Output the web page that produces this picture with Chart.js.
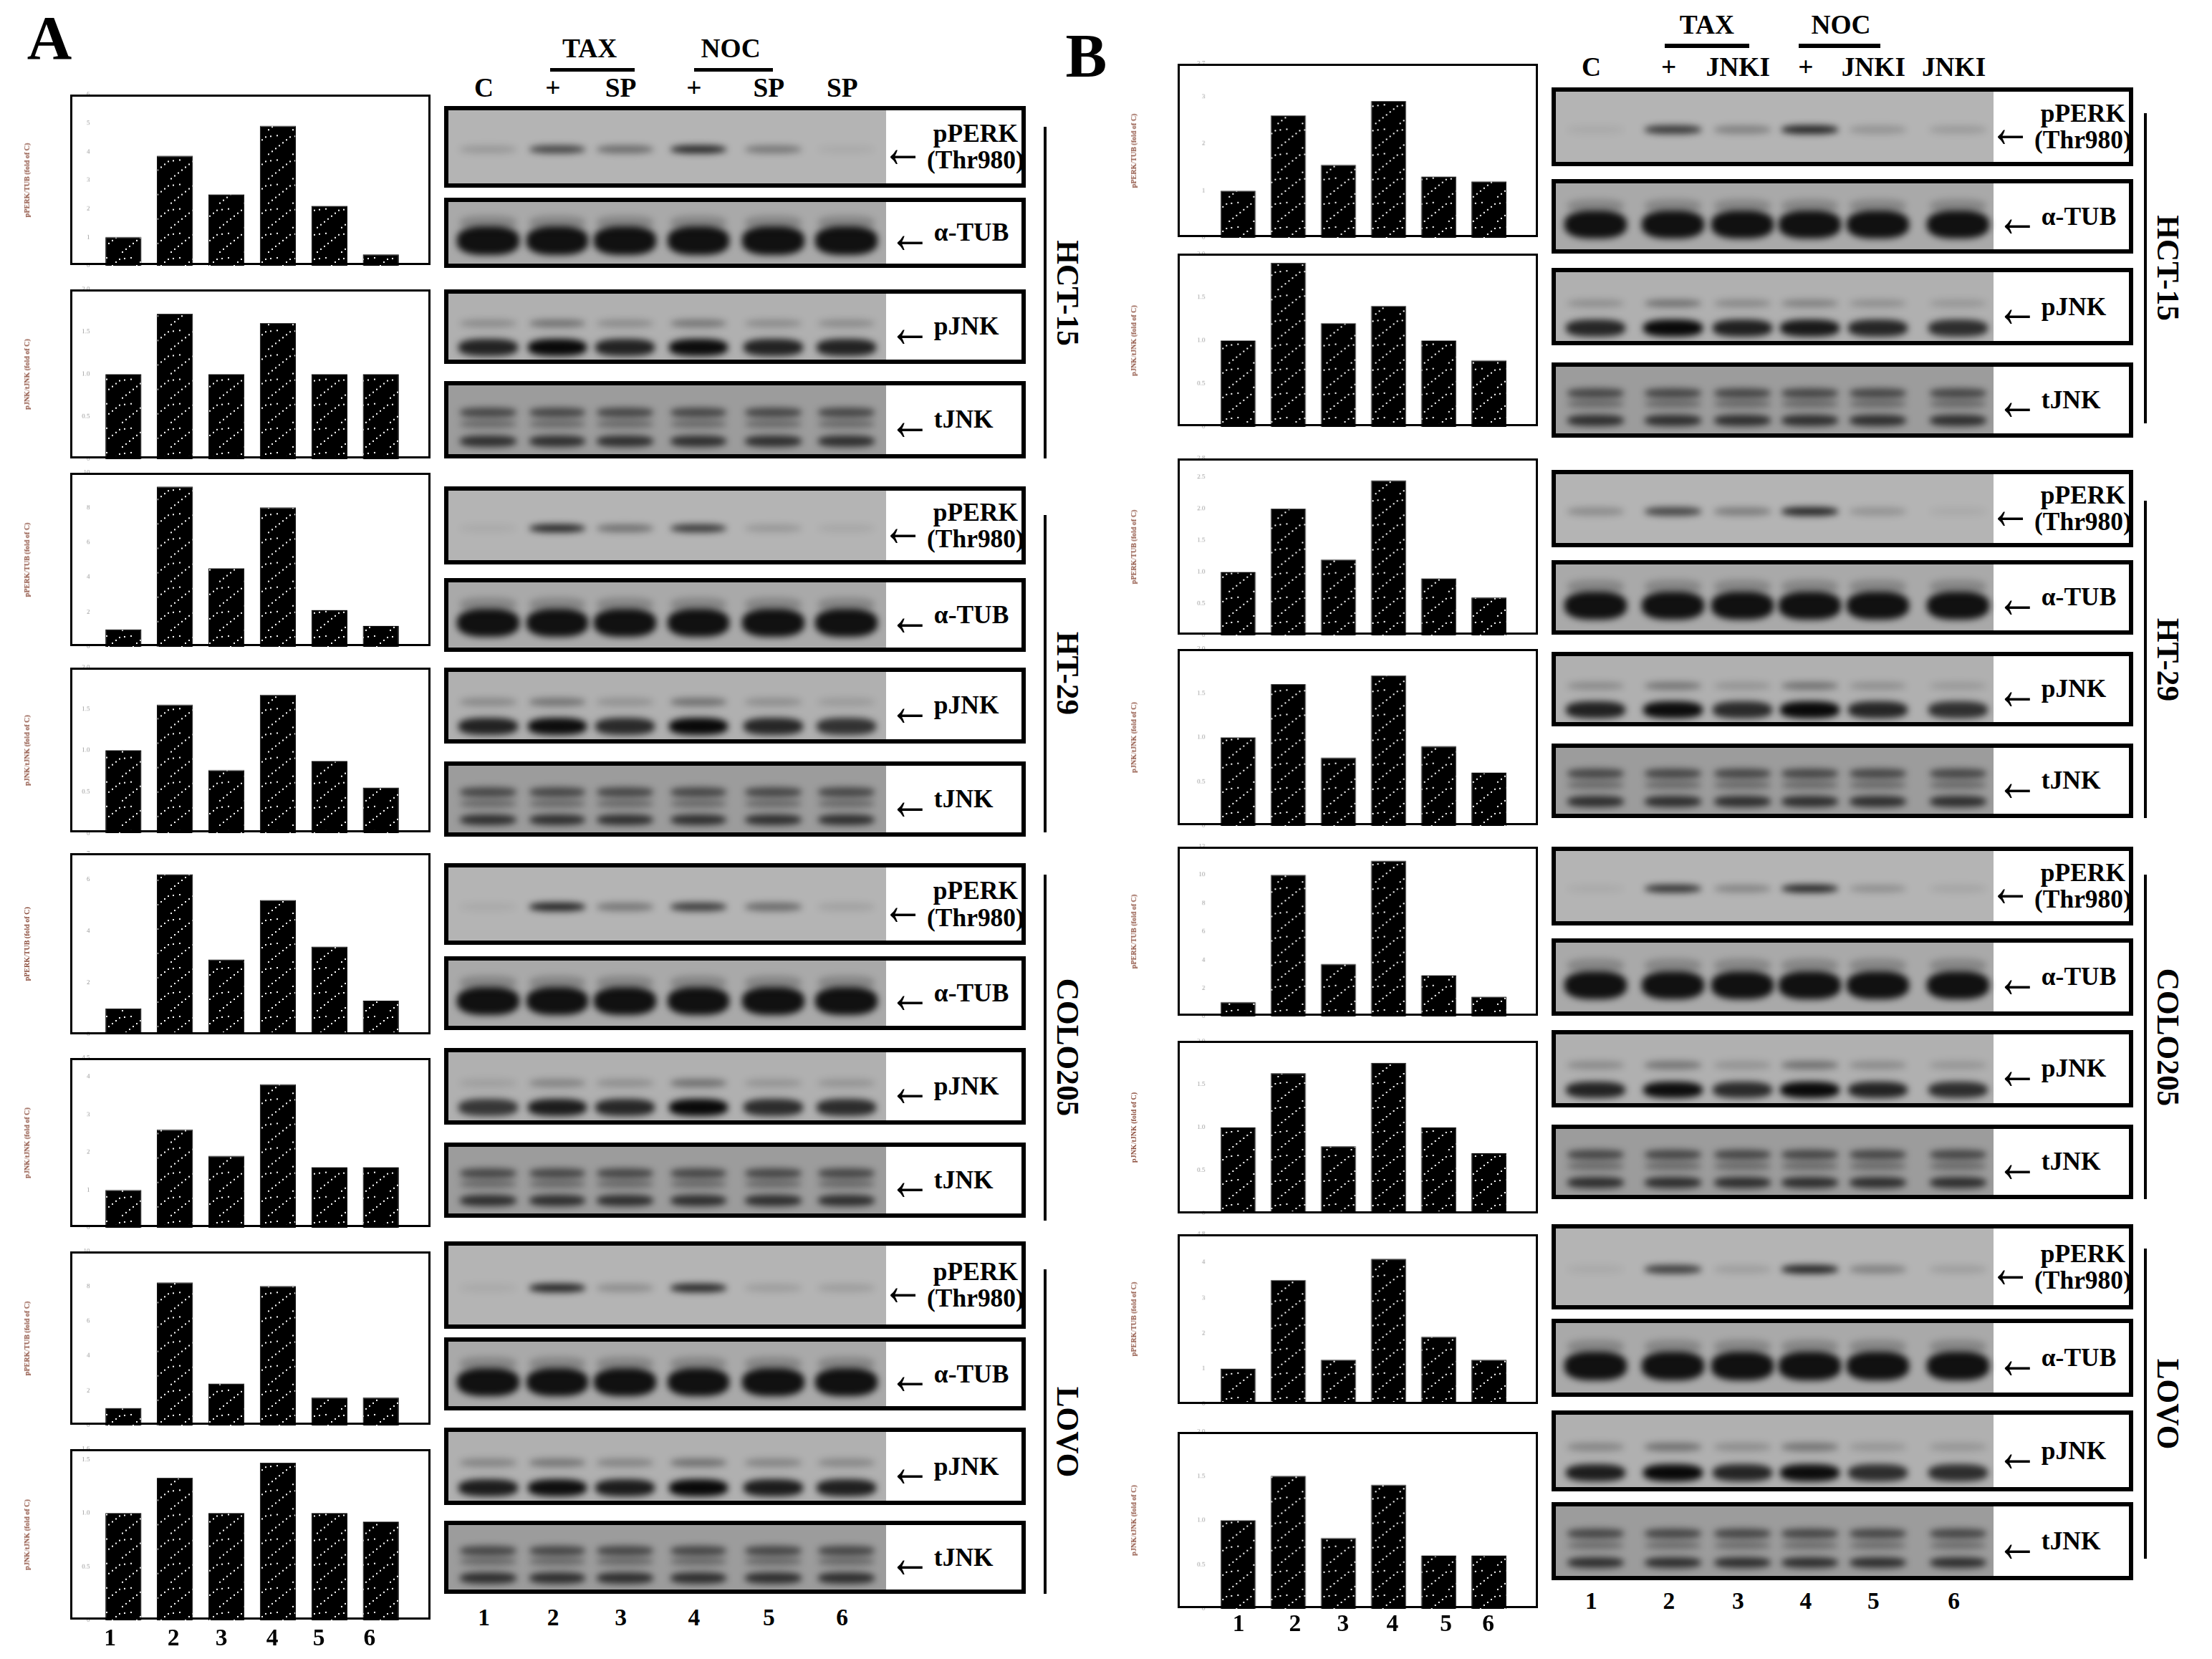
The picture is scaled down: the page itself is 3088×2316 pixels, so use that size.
<!DOCTYPE html>
<html>
<head>
<meta charset="UTF-8">
<script src="https://cdn.jsdelivr.net/npm/chart.js"></script>
<style>
  body{margin:0;background:#fff;width:3088px;height:2316px;overflow:hidden;font-family:"Liberation Serif",serif;position:relative}
  .abs{position:absolute}
  .txt{position:absolute;font-weight:bold;color:#000;white-space:nowrap;line-height:1}
  .box{position:absolute;border:3px solid #000;box-sizing:border-box;pointer-events:none}
  .blot{position:absolute;border:6px solid #000;box-sizing:border-box;background:#fff;overflow:hidden}
  .gel{position:absolute;left:0;top:0;bottom:0}
  .band{position:absolute;border-radius:40%;filter:blur(5px)}
  .lbl{position:absolute;font-weight:bold;line-height:1.05;display:flex;align-items:center;white-space:nowrap}
  .lbl .ar{font-weight:bold;margin-right:4px;transform:scaleY(1.4)}
  .lbl .tx{text-align:center}
  .vline{position:absolute;width:4px;background:#000}
  .rot{position:absolute;font-weight:bold;transform:translate(-50%,-50%) rotate(90deg);white-space:nowrap}
</style>
</head>
<body>
<script>
// ---------- data (fold of control) ----------
const lanes = ['1','2','3','4','5','6'];
// panel A: C, TAX, TAX+SP, NOC, NOC+SP, SP
const aHctPerk  = [1, 3.85, 2.5, 4.9, 2.1, 0.4];
const aHctJnk   = [1.0, 1.71, 1.0, 1.6, 1.0, 1.0];
const aHtPerk   = [1, 9.2, 4.5, 8.0, 2.1, 1.2];
const aHtJnk    = [1, 1.55, 0.76, 1.67, 0.87, 0.55];
const aColoPerk = [1, 6.2, 2.9, 5.2, 3.4, 1.3];
const aColoJnk  = [1, 2.6, 1.9, 3.8, 1.6, 1.6];
const aLovoPerk = [1, 8.2, 2.4, 8.0, 1.6, 1.6];
const aLovoJnk  = [1, 1.33, 1.0, 1.47, 1.0, 0.92];
// panel B: C, TAX, TAX+JNKI, NOC, NOC+JNKI, JNKI
const bHctPerk  = [1, 2.6, 1.55, 2.9, 1.3, 1.2];
const bHctJnk   = [1, 1.9, 1.2, 1.4, 1.0, 0.77];
const bHtPerk   = [1, 2.0, 1.2, 2.45, 0.9, 0.6];
const bHtJnk    = [1, 1.6, 0.77, 1.7, 0.9, 0.6];
const bColoPerk = [1, 10, 3.7, 11, 2.9, 1.4];
const bColoJnk  = [1, 1.63, 0.78, 1.75, 1.0, 0.7];
const bLovoPerk = [1, 3.5, 1.25, 4.1, 1.9, 1.25];
const bLovoJnk  = [1, 1.5, 0.8, 1.4, 0.6, 0.6];

const laneHeadA = ['C','+','SP','+','SP','SP'];
const laneHeadB = ['C','+','JNKI','+','JNKI','JNKI'];
const cellLines = ['HCT-15','HT-29','COLO205','LOVO'];

// ---------- layout helpers (reference units -> page px) ----------
const S = 3088/1568;
const px = v => (v*S)+'px';
function el(cls, html, css){
  const d=document.createElement('div'); d.className=cls; if(html!=null) d.innerHTML=html;
  Object.assign(d.style, css); document.body.appendChild(d); return d;
}
function text(t, x, y, size, extra){
  return el('txt', t, Object.assign({left:px(x),top:px(y),fontSize:px(size),transform:'translateX(-50%)'}, extra||{}));
}

// hatch pattern: black with little white dots in diagonal strokes
function makePattern(){
  const c=document.createElement('canvas'); c.width=34; c.height=34;
  const g=c.getContext('2d'); g.fillStyle='#000'; g.fillRect(0,0,34,34);
  g.fillStyle='#fff';
  [[2,30],[7,26],[12,22],[17,18],[22,14],[27,10],[32,6],[5,5],[14,4]].forEach(([x,y])=>g.fillRect(x,y,2,2));
  return g.createPattern(c,'repeat');
}
const pattern = makePattern();

// ---------- bar charts ----------
const charts = [
  // [data, yMax, title, boxX, boxY, boxW, boxH]
  [aHctPerk, 6, 'pPERK/TUB (fold of C)', 50, 67, 255, 121],
  [aHctJnk,  2, 'pJNK/tJNK (fold of C)', 50, 205, 255, 120],
  [aHtPerk, 10, 'pPERK/TUB (fold of C)', 50, 335, 255, 123],
  [aHtJnk,   2, 'pJNK/tJNK (fold of C)', 50, 473, 255, 117],
  [aColoPerk,7, 'pPERK/TUB (fold of C)', 50, 605, 255, 128],
  [aColoJnk, 4.5,'pJNK/tJNK (fold of C)', 50, 750, 255, 120],
  [aLovoPerk,10,'pPERK/TUB (fold of C)', 50, 887, 255, 123],
  [aLovoJnk, 1.6,'pJNK/tJNK (fold of C)', 50, 1027, 255, 121],
  [bHctPerk, 3.7,'pPERK/TUB (fold of C)', 835, 45, 255, 123],
  [bHctJnk,  2, 'pJNK/tJNK (fold of C)', 835, 180, 255, 122],
  [bHtPerk, 2.8,'pPERK/TUB (fold of C)', 835, 325, 255, 125],
  [bHtJnk,   2, 'pJNK/tJNK (fold of C)', 835, 460, 255, 125],
  [bColoPerk,12,'pPERK/TUB (fold of C)', 835, 600, 255, 120],
  [bColoJnk, 2, 'pJNK/tJNK (fold of C)', 835, 738, 255, 122],
  [bLovoPerk,4.8,'pPERK/TUB (fold of C)', 835, 875, 255, 120],
  [bLovoJnk, 2, 'pJNK/tJNK (fold of C)', 835, 1015, 255, 125]
];

charts.forEach(([vals, max, title, bx, by, bw, bh], i)=>{
  const isA = bx < 500;
  const padL = isA ? 19 : 25, padR = 17, ax = 34, pad = 8;
  const wrap = el('abs', null, {left:px(bx-ax), top:px(by-pad), width:px(bw+ax), height:px(bh+2*pad)});
  const cv = document.createElement('canvas'); wrap.appendChild(cv);
  el('box', null, {left:px(bx), top:px(by), width:px(bw), height:px(bh)});
  new Chart(cv, {
    type:'bar',
    data:{labels:lanes, datasets:[{data:vals, backgroundColor:pattern, borderColor:'#000', borderWidth:1,
      barPercentage:0.7, categoryPercentage:1}]},
    options:{
      responsive:true, maintainAspectRatio:false, animation:false,
      layout:{padding:{top:pad*S, bottom:pad*S, right:padR*S}},
      plugins:{legend:{display:false}, tooltip:{enabled:false}},
      scales:{
        x:{display:false},
        y:{min:0, max:max, grid:{display:false}, border:{display:false},
           ticks:{color:'#9a9a9a', font:{size:9, family:'Liberation Serif'}, maxTicksLimit:7},
           title:{display:true, text:title, color:'#8a4b3a', padding:0, font:{size:10, weight:'bold', family:'Liberation Serif'}},
           afterFit(s){ s.width=(ax+padL)*S; }}
      }
    }
  });
});

// lane numbers under bottom charts
[[78,123,157,193,226,262],[878,918,952,987,1025,1055]].forEach((xs,k)=>{
  xs.forEach((x,j)=>text(lanes[j], x, k?1142:1152, 17));
});

// ---------- blots ----------
const aBlotY = [[75,58],[140,50],[205,53],[270,55],[345,55],[410,52],[473,54],[540,53],[612,58],[678,52],[743,54],[810,53],[880,62],[948,52],[1012,55],[1078,52]];
const bBlotY = [[62,56],[127,53],[190,55],[257,53],[333,55],[397,53],[462,53],[527,53],[600,56],[665,55],[730,55],[797,53],[868,60],[935,55],[1000,57],[1065,55]];
const aLaneX = [343,392,440,492,545,597];
const bLaneX = [1128,1183,1232,1280,1328,1385];
const perkA = [aHctPerk,aHtPerk,aColoPerk,aLovoPerk], jnkA=[aHctJnk,aHtJnk,aColoJnk,aLovoJnk];
const perkB = [bHctPerk,bHtPerk,bColoPerk,bLovoPerk], jnkB=[bHctJnk,bHtJnk,bColoJnk,bLovoJnk];
const gelTone = ['#b4b4b4','#a9a9a9','#b0b0b0','#9c9c9c'];
const labels = ['pPERK<br>(Thr980)','α-TUB','pJNK','tJNK'];

function blot(x0, ys, laneX, perk, jnk){
  ys.forEach(([y,h],i)=>{
    const kind=i%4, cell=Math.floor(i/4);
    const b=el('blot', null, {left:px(x0), top:px(y), width:px(412), height:px(h)});
    const gel=document.createElement('div'); gel.className='gel';
    gel.style.width=px(310); gel.style.background=gelTone[kind]; b.appendChild(gel);
    const band=(cx,cy,w,hh,a)=>{
      const d=document.createElement('div'); d.className='band';
      Object.assign(d.style,{left:px(cx-x0-w/2),top:px(cy*h-hh/2),width:px(w),height:px(hh),background:`rgba(0,0,0,${a})`});
      gel.appendChild(d);
    };
    laneX.forEach((cx,j)=>{
      if(kind===0){ const v=perk[cell], mx=Math.max(...v), mn=Math.min(...v);
        band(cx,0.48,40,6,0.05+0.75*(v[j]-mn)/(mx-mn)); }
      else if(kind===1){ band(cx,0.55,44,20,0.9); band(cx,0.3,40,10,0.2); }
      else if(kind===2){ const v=jnk[cell], mx=Math.max(...v);
        band(cx,0.4,40,6,0.35*v[j]/mx); band(cx,0.72,42,12,0.6+0.35*v[j]/mx); }
      else { band(cx,0.35,40,7,0.55); band(cx,0.5,40,5,0.35); band(cx,0.72,40,8,0.7); }
    });
    const l=document.createElement('div'); l.className='lbl';
    l.innerHTML='<span class="ar" style="font-size:'+px(30)+'">←</span><span class="tx">'+labels[kind]+'</span>';
    Object.assign(l.style,{left:px(kind===0?307:312),top:'50%',transform:'translateY(-50%)',fontSize:px(18)});
    b.appendChild(l);
  });
}
blot(315, aBlotY, aLaneX, perkA, jnkA);
blot(1100, bBlotY, bLaneX, perkB, jnkB);

// lane headers
aLaneX.forEach((x,j)=>text(laneHeadA[j], x, 53, 19));
bLaneX.forEach((x,j)=>text(laneHeadB[j], x, 38, 19));
text('TAX',418,25,19); text('NOC',518,25,19);
text('TAX',1210,8,19); text('NOC',1305,8,19);
[[390,450,48],[492,548,48],[1180,1240,31],[1275,1333,31]].forEach(([a,b,y])=>el('abs',null,{left:px(a),top:px(y),width:px(b-a),height:px(3),background:'#000'}));
aLaneX.forEach((x,j)=>text(lanes[j], x, 1138, 17));
bLaneX.forEach((x,j)=>text(lanes[j], x, 1126, 17));

// panel letters
text('A',35,5,44);
text('B',770,18,44);

// cell-line brackets
[[740,[[90,325],[365,590],[620,865],[900,1130]]],[1520,[[80,300],[355,580],[620,850],[885,1105]]]].forEach(([x,spans])=>{
  spans.forEach(([a,b],k)=>{
    el('vline',null,{left:px(x),top:px(a),height:px(b-a)});
    el('rot',cellLines[k],{left:px(x+17),top:px((a+b)/2),fontSize:px(22)});
  });
});
</script>
</body>
</html>
